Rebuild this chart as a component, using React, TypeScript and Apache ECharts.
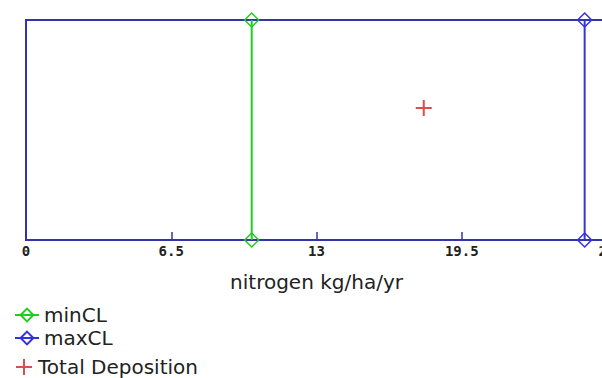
import React, { useEffect, useRef } from "react";
import * as echarts from "echarts";

const xTicks = [0, 6.5, 13, 19.5, 26];
const minCL = [
  [10.1, 0],
  [10.1, 1],
];
const maxCL = [
  [25, 0],
  [25, 1],
];
const totalDeposition = [[17.8, 0.6]];

const GREEN = "#22cc22";
const BLUE = "#3333dd";
const FRAME = "#3333aa";
const RED = "#d42020";

export default function App() {
  const ref = useRef<HTMLDivElement>(null);
  useEffect(() => {
    if (!ref.current) return;
    const chart = echarts.init(ref.current, null, { renderer: "svg" });
    const legendText = { fontFamily: "DejaVu Sans", fontSize: 20, color: "#222" };
    chart.setOption({
      animation: false,
      backgroundColor: "#ffffff",
      grid: {
        left: 26,
        top: 20,
        bottom: 138,
        right: 13,
        show: true,
        borderColor: FRAME,
        borderWidth: 2,
        backgroundColor: "transparent",
      },
      xAxis: {
        type: "value",
        min: xTicks[0],
        max: xTicks[xTicks.length - 1],
        interval: 6.5,
        name: "nitrogen kg/ha/yr",
        nameLocation: "middle",
        nameGap: 32,
        nameTextStyle: { fontFamily: "DejaVu Sans", fontSize: 20, color: "#222" },
        axisLine: { lineStyle: { color: FRAME, width: 2 } },
        axisTick: { inside: true, length: 8, lineStyle: { color: FRAME, width: 1.5 } },
        axisLabel: {
          margin: 4,
          fontFamily: "DejaVu Sans Mono",
          fontWeight: "bold",
          fontSize: 14,
          color: "#222",
          formatter: (v: number) => String(v),
        },
        splitLine: { show: false },
      },
      yAxis: {
        type: "value",
        min: 0,
        max: 1,
        show: false,
      },
      legend: [
        {
          orient: "vertical",
          left: 9,
          top: 300,
          itemGap: 3,
          itemWidth: 24,
          itemHeight: 16,
          textStyle: legendText,
          data: ["minCL", "maxCL"],
        },
        {
          orient: "vertical",
          left: 10,
          top: 352,
          itemWidth: 18,
          itemHeight: 16,
          itemGap: 0,
          textStyle: legendText,
          data: ["Total Deposition"],
        },
      ],
      series: [
        {
          name: "minCL",
          type: "line",
          data: minCL,
          color: GREEN,
          symbol: "diamond",
          symbolSize: 14,
          lineStyle: { color: GREEN, width: 2 },
          itemStyle: { color: "transparent", borderColor: GREEN, borderWidth: 1.5 },
          z: 3,
        },
        {
          name: "maxCL",
          type: "line",
          data: maxCL,
          color: BLUE,
          symbol: "diamond",
          symbolSize: 14,
          lineStyle: { color: BLUE, width: 2 },
          itemStyle: { color: "transparent", borderColor: BLUE, borderWidth: 1.5 },
          z: 3,
        },
        {
          name: "Total Deposition",
          type: "scatter",
          data: totalDeposition,
          color: RED,
          symbol: "path://M0,5L10,5M5,0L5,10",
          symbolSize: 16,
          itemStyle: { color: "transparent", borderColor: RED, borderWidth: 2 },
          z: 3,
        },
      ],
    });
    return () => chart.dispose();
  }, []);
  return (
    <div
      ref={ref}
      style={{ position: "fixed", left: 0, top: 0, width: 620, height: 378, background: "#fff" }}
    />
  );
}
